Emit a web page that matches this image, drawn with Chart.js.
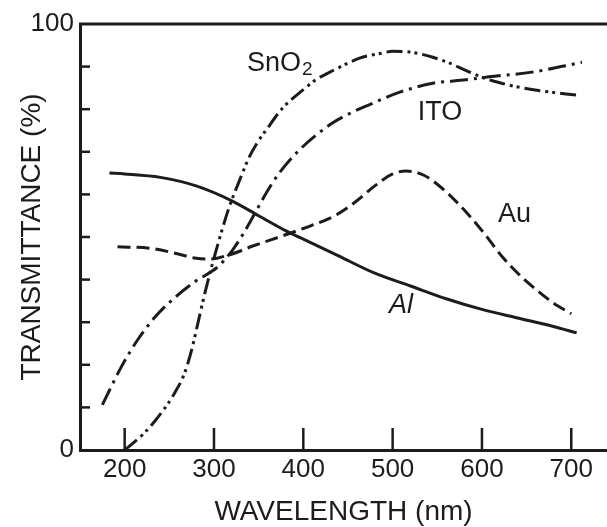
<!DOCTYPE html>
<html>
<head>
<meta charset="utf-8">
<script src="https://cdn.jsdelivr.net/npm/chart.js@4/dist/chart.umd.min.js"></script>
<style>
  html, body { margin: 0; padding: 0; background: #fff; }
  #wrap { width: 607px; height: 527px; }
</style>
</head>
<body>
<div id="wrap"><canvas id="transChart" width="607" height="527"></canvas></div>
<script>
// values: wavelength (nm) and transmittance (%)
var alWave = [183, 200, 240, 280, 320, 350, 380, 400, 440, 480, 520, 560, 600, 640, 680, 706];
var alT    = [65, 64.8, 64, 62, 58.5, 55, 51.5, 49.5, 45.5, 41.5, 38.5, 35.5, 33, 31, 29, 27.5];

var auWave = [192, 231, 260, 280, 295, 317, 345, 373, 400, 437, 460, 480, 500, 515, 535, 555, 575, 600, 623, 645, 661, 680, 700];
var auT    = [47.7, 47.3, 46, 45, 44.8, 45.8, 48, 50, 52, 55.2, 58.5, 62, 64.8, 65.5, 64.5, 61.5, 57.5, 51.5, 45.3, 40.5, 37.6, 34.5, 32];

var itoWave = [175, 197, 215, 234, 253, 278, 298, 306, 321, 332, 343, 359, 373, 396, 433, 455, 471, 508, 545, 582, 608, 656, 712];
var itoT    = [10.6, 19.8, 26, 31.2, 35.2, 39.4, 42, 43.3, 47, 50.5, 54.5, 60.5, 65, 70.5, 76.8, 79.3, 80.8, 84, 86.1, 86.9, 87.6, 88.7, 91];

var snWave = [200, 222, 241, 256, 267, 275, 282, 290, 298, 306, 317, 329, 340, 349, 359, 377, 396, 414, 426, 452, 463, 489, 500, 520, 545, 564, 580, 600, 620, 638, 670, 706];
var snT    = [0, 4, 8.7, 13.4, 18, 23.5, 29.8, 37, 43.5, 49.5, 57, 63.5, 69, 72.3, 75.3, 80.3, 83.9, 86.9, 88.3, 91, 92, 93.2, 93.6, 93.4, 92.2, 90.8, 89.3, 87.5, 86.2, 85.3, 84.2, 83.3];

var xTicks = [200, 300, 400, 500, 600, 700];
var yTicks = [0, 100];
var yMinorTicks = [10, 20, 30, 40, 50, 60, 70, 80, 90];

// curve names, anchored in data units
var curveNames = [
    { text: 'SnO', sub: '2', x: 337, y: 90.8, italic: false },
    { text: 'ITO', x: 528, y: 79.3, italic: false },
    { text: 'Au', x: 618, y: 55.2, italic: false },
    { text: 'Al', x: 496, y: 34, italic: true }
];

var ink = '#1c1c1c';
var family = '"Liberation Sans", Arial, Helvetica, sans-serif';

toPoints = function (xs, ys) {
    return xs.map(function (v, i) { return { x: v, y: ys[i] }; });
}

var frameAndLabels = {
    id: 'frameAndLabels',
    afterDraw: function (chart) {
        var ctx = chart.ctx;
        var area = chart.chartArea;
        var xs = chart.scales.x;
        var ys = chart.scales.y;
        ctx.save();
        ctx.strokeStyle = ink;
        ctx.lineWidth = 3;
        ctx.lineCap = 'butt';

        // top border of the frame
        ctx.beginPath();
        ctx.moveTo(area.left - 1, area.top);
        ctx.lineTo(area.right, area.top);
        ctx.stroke();

        // inward ticks
        ctx.lineWidth = 2.5;
        xTicks.forEach(function (v) {
            var px = xs.getPixelForValue(v);
            ctx.beginPath();
            ctx.moveTo(px, area.bottom);
            ctx.lineTo(px, area.bottom - 22);
            ctx.stroke();
        });
        yMinorTicks.forEach(function (v) {
            var py = ys.getPixelForValue(v);
            ctx.beginPath();
            ctx.moveTo(area.left, py);
            ctx.lineTo(area.left + 10, py);
            ctx.stroke();
        });

        // curve names
        ctx.fillStyle = ink;
        ctx.textBaseline = 'middle';
        ctx.textAlign = 'left';
        curveNames.forEach(function (n) {
            var px = xs.getPixelForValue(n.x);
            var py = ys.getPixelForValue(n.y);
            ctx.font = (n.italic ? 'italic ' : '') + '27px ' + family;
            ctx.fillText(n.text, px, py);
            if (n.sub) {
                var w = ctx.measureText(n.text).width;
                ctx.font = '19px ' + family;
                ctx.fillText(n.sub, px + w + 1, py + 7);
            }
        });
        ctx.restore();
    }
};

var ctx = document.getElementById('transChart');
var chart = new Chart(ctx, {
    type: 'line',
    data: {
        datasets: [
            { label: 'Al', data: toPoints(alWave, alT), borderDash: [] },
            { label: 'Au', data: toPoints(auWave, auT), borderDash: [13, 6] },
            { label: 'ITO', data: toPoints(itoWave, itoT), borderDash: [18, 6, 3, 6] },
            { label: 'SnO2', data: toPoints(snWave, snT), borderDash: [16, 5, 3, 4, 3, 5] }
        ]
    },
    options: {
        responsive: false,
        animation: false,
        devicePixelRatio: 1,
        layout: { padding: { top: 24, right: 0, bottom: 0, left: 0 } },
        plugins: { legend: { display: false }, tooltip: { enabled: false } },
        elements: {
            point: { radius: 0 },
            line: { borderWidth: 3, borderColor: ink, cubicInterpolationMode: 'monotone', fill: false }
        },
        scales: {
            x: {
                type: 'linear',
                min: 150,
                max: 740,
                afterBuildTicks: function (s) { s.ticks = xTicks.map(function (v) { return { value: v }; }); },
                afterFit: function (s) { s.height = 77; },
                grid: { display: false, drawTicks: false },
                border: { display: true, width: 3, color: ink },
                ticks: { padding: 4, color: ink, autoSkip: false, maxRotation: 0, font: { family: family, size: 26 } },
                title: {
                    display: true, text: 'WAVELENGTH (nm)', color: ink,
                    font: { family: family, size: 28, lineHeight: 1 },
                    padding: { top: 0, bottom: 1 }
                }
            },
            y: {
                min: 0,
                max: 100,
                afterBuildTicks: function (s) { s.ticks = yTicks.map(function (v) { return { value: v }; }); },
                afterFit: function (s) { s.width = 80; },
                grid: { display: false, drawTicks: false },
                border: { display: true, width: 3, color: ink },
                ticks: { padding: 6, color: ink, autoSkip: false, font: { family: family, size: 26 } },
                title: {
                    display: true, text: 'TRANSMITTANCE (%)', color: ink,
                    font: { family: family, size: 28, lineHeight: 1 },
                    padding: { top: 18, bottom: 0 }
                }
            }
        }
    },
    plugins: [frameAndLabels]
});
</script>
</body>
</html>
